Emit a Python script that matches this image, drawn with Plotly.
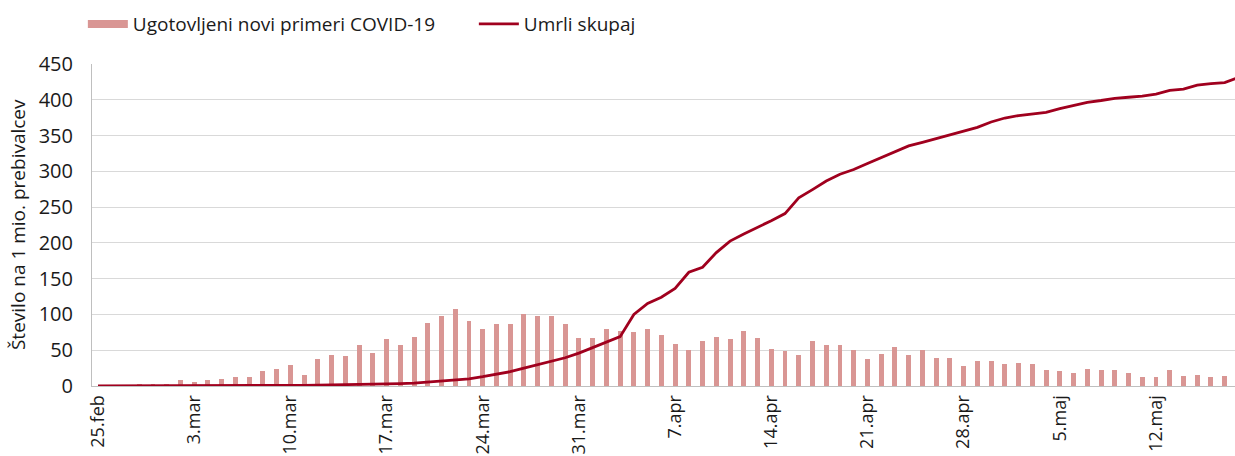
import plotly.graph_objects as go
import pandas as pd

# ---- data ----
bar_dates = pd.date_range("2020-02-25", "2020-05-17", freq="D").strftime("%Y-%m-%d").tolist()
line_dates = pd.date_range("2020-02-25", "2020-05-18", freq="D").strftime("%Y-%m-%d").tolist()

new_cases = [
    0, 0, 0, 3.5, 3.5, 3.5, 9, 5.5, 8, 9.5,
    12.5, 12.5, 21, 24, 29, 16, 37.5, 43, 41.5, 57,
    46.5, 66, 58, 69, 87.5, 98.5, 107.5, 91, 79, 86,
    86, 101, 98, 98, 86, 67, 67, 79, 76.5, 75,
    79, 71, 59, 50, 63, 69, 65, 77, 67, 51.5,
    49, 44, 62.5, 57.5, 57.5, 50, 37.5, 45, 55, 43.5,
    50, 39, 38.5, 28.5, 34.5, 34.5, 31, 32.5, 31, 22.5,
    20.5, 17.5, 23.5, 23, 22, 17.5, 13, 12.5, 23, 14.5,
    16, 13, 14.5,
]

deaths_total = [
    0, 0, 0, 0, 0, 0, 0, 0, 0, 0,
    0, 0.2, 0.3, 0.5, 0.8, 1.0, 1.2, 1.4, 1.6, 1.8,
    2.2, 2.8, 3.3, 4.0, 5.5, 7.0, 8.5, 10.0, 13, 16.5,
    20, 25, 30, 34.5, 39.5, 46, 54, 61.5, 69, 100,
    115.5, 124, 136.5, 159, 166, 186.5, 202.5, 212.5, 221.5, 231,
    241, 263, 274.5, 286.5, 296, 302.5, 311, 319.5, 327.5, 335.5,
    340.5, 346, 350.5, 356.5, 361.5, 369, 374.5, 378, 380.5, 382.5,
    387.5, 392, 396.5, 399, 402, 403.5, 405, 408, 413, 415,
    420.5, 422.5, 424, 431,
]

tick_dates = ["2020-02-25", "2020-03-03", "2020-03-10", "2020-03-17", "2020-03-24",
              "2020-03-31", "2020-04-07", "2020-04-14", "2020-04-21", "2020-04-28",
              "2020-05-05", "2020-05-12"]
tick_labels = ["25.feb", "3.mar", "10.mar", "17.mar", "24.mar", "31.mar",
               "7.apr", "14.apr", "21.apr", "28.apr", "5.maj", "12.maj"]
y_ticks = [0, 50, 100, 150, 200, 250, 300, 350, 400, 450]

name_bars = "Ugotovljeni novi primeri COVID-19"
name_line = "Umrli skupaj"
y_title = "Število na 1 mio. prebivalcev"

BAR_COLOR = "#D99694"
LINE_COLOR = "#A0001E"
FONT = "Open Sans"
TXT = "#1a1a1a"

fig = go.Figure()
fig.add_trace(go.Bar(
    x=bar_dates, y=new_cases, name=name_bars,
    marker=dict(color=BAR_COLOR, line=dict(width=0)),
    width=0.36 * 86400000, showlegend=False,
))
# legend swatch for bars (wide rectangle like the original)
fig.add_trace(go.Scatter(
    x=[None], y=[None], mode="lines", name=name_bars,
    line=dict(color=BAR_COLOR, width=8),
))
fig.add_trace(go.Scatter(
    x=line_dates, y=deaths_total, mode="lines", name=name_line,
    line=dict(color=LINE_COLOR, width=2.8),
))

fig.update_layout(
    width=1235, height=456,
    margin=dict(l=92, r=0, t=64, b=70, autoexpand=False),
    paper_bgcolor="white", plot_bgcolor="white",
    font=dict(family=FONT, size=19, color=TXT),
    bargap=0,
    legend=dict(
        orientation="h", x=-0.008, xanchor="left", y=1.065, yanchor="bottom",
        font=dict(family=FONT, size=19, color=TXT),
        itemwidth=40, tracegroupgap=0, traceorder="normal",
        bgcolor="rgba(0,0,0,0)", entrywidth=336, entrywidthmode="pixels",
    ),
    xaxis=dict(
        type="date",
        range=["2020-02-24 13:30", "2020-05-17 18:00"],
        tickmode="array", tickvals=tick_dates, ticktext=tick_labels,
        tickangle=-90, showgrid=False, zeroline=False,
        showline=True, linecolor="#BFBFBF", linewidth=1,
        ticks="", ticklabelstandoff=1,
        tickfont=dict(family=FONT, size=18, color=TXT),
        automargin=False,
    ),
    yaxis=dict(
        range=[0, 450], tickmode="array", tickvals=y_ticks,
        showgrid=True, gridcolor="#D9D9D9", gridwidth=1,
        zeroline=False, showline=True, linecolor="#BFBFBF", linewidth=1,
        ticks="", ticklabelstandoff=14,
        tickfont=dict(family=FONT, size=20, color=TXT),
        automargin=False,
    ),
    annotations=[dict(
        text=y_title, textangle=-90, xref="paper", yref="paper",
        x=-0.0647, y=0.5, xanchor="center", yanchor="middle",
        showarrow=False, font=dict(family=FONT, size=19, color=TXT),
    )],
)

fig.write_html("out.html", config={"displayModeBar": False},
               post_script="document.body.style.margin='0px';")
